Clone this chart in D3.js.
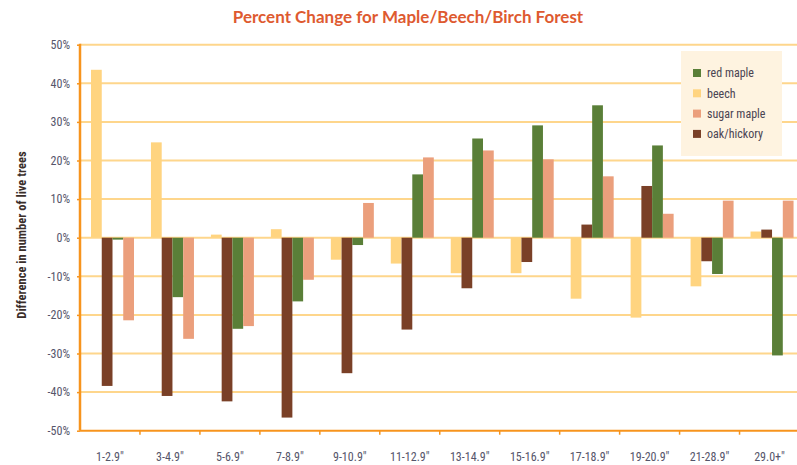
<!DOCTYPE html>
<html>
<head>
<meta charset="utf-8">
<script src="https://cdn.jsdelivr.net/npm/d3@7"></script>
<style>
  body { margin: 0; background: #fff; }
  text { font-family: "Liberation Sans Narrow", "Roboto Condensed", "DejaVu Sans Condensed", "Open Sans", sans-serif; }
</style>
</head>
<body>
<div class="chart"></div>
<script>
var categories = ['1-2.9"', '3-4.9"', '5-6.9"', '7-8.9"', '9-10.9"', '11-12.9"',
                  '13-14.9"', '15-16.9"', '17-18.9"', '19-20.9"', '21-28.9"', '29.0+"'];

// percent change per diameter class
var beech      = [43.5, 24.7, 0.8, 2.2, -5.7, -6.7, -9.2, -9.2, -15.8, -20.7, -12.6, 1.6];
var oakHickory = [-38.4, -41.0, -42.4, -46.6, -35.1, -23.8, -13.1, -6.3, 3.4, 13.4, -6.1, 2.1];
var redMaple   = [-0.5, -15.4, -23.6, -16.5, -1.9, 16.4, 25.7, 29.1, 34.3, 23.9, -9.4, -30.5];
var sugarMaple = [-21.4, -26.2, -22.9, -10.9, 9.0, 20.8, 22.6, 20.3, 15.9, 6.2, 9.6, 9.6];

var yTicks = [-50, -40, -30, -20, -10, 0, 10, 20, 30, 40, 50];

var series = [
  {key: 'beech', name: 'beech', values: beech, color: '#ffd480'},
  {key: 'oak', name: 'oak/hickory', values: oakHickory, color: '#7a4027'},
  {key: 'red', name: 'red maple', values: redMaple, color: '#5a7f38'},
  {key: 'sugar', name: 'sugar maple', values: sugarMaple, color: '#eb9f7c'}
];
var legendOrder = ['red', 'beech', 'sugar', 'oak'];

var chartOptions = {
  width: 797,
  height: 465,
  left: 80,
  right: 799.5,
  top: 44.7,
  bottom: 430.7
}

var svg = d3.select('.chart').append('svg')
            .attr('width', chartOptions.width)
            .attr('height', chartOptions.height);

var x0 = d3.scaleBand()
           .domain(categories)
           .range([chartOptions.left, chartOptions.right]);

var x1 = d3.scaleBand()
           .domain(series.map(function(s){ return s.key; }))
           .range([11, 54]);

var y = d3.scaleLinear()
          .domain([-50, 50])
          .range([chartOptions.bottom, chartOptions.top]);

// title
svg.append('text')
   .attr('x', 408)
   .attr('y', 23)
   .attr('text-anchor', 'middle')
   .attr('fill', '#de5a30')
   .attr('font-size', 17)
   .attr('font-weight', 'bold')
   .style('font-family', 'Lato, "Open Sans", sans-serif')
   .text('Percent Change for Maple/Beech/Birch Forest');

// gridlines
svg.append('g')
   .selectAll('line')
   .data(yTicks.filter(function(t){ return t > -50; }))
   .enter()
   .append('line')
     .attr('x1', chartOptions.left)
     .attr('x2', chartOptions.width)
     .attr('y1', function(t){ return y(t); })
     .attr('y2', function(t){ return y(t); })
     .attr('stroke', '#fed68c')
     .attr('stroke-width', 2);

// bars
var groups = svg.append('g')
                .selectAll('g')
                .data(series)
                .enter()
                .append('g')
                  .attr('fill', function(s){ return s.color; });

groups.selectAll('rect')
      .data(function(s){
        return s.values.map(function(v, i){ return {key: s.key, cat: categories[i], value: v}; });
      })
      .enter()
      .append('rect')
        .attr('x', function(d){ return x0(d.cat) + x1(d.key); })
        .attr('width', x1.bandwidth())
        .attr('y', function(d){ return y(Math.max(0, d.value)); })
        .attr('height', function(d){ return Math.abs(y(d.value) - y(0)); });

// y axis
var yAxis = d3.axisLeft(y)
              .tickValues(yTicks)
              .tickSize(3)
              .tickPadding(7)
              .tickFormat(function(t){ return t + '%'; });

var yAxisG = svg.append('g')
                .attr('transform', 'translate(' + chartOptions.left + ',0)')
                .call(yAxis);

// x axis at the bottom, ticks on group boundaries
var xAxis = d3.axisBottom(x0)
              .tickSize(0)
              .tickPadding(22);

var xAxisG = svg.append('g')
                .attr('transform', 'translate(0,' + chartOptions.bottom + ')')
                .call(xAxis);

xAxisG.selectAll('.boundary')
      .data(categories.slice(1))
      .enter()
      .append('line')
        .attr('class', 'boundary')
        .attr('x1', function(c){ return x0(c); })
        .attr('x2', function(c){ return x0(c); })
        .attr('y1', 0)
        .attr('y2', 4)
        .attr('stroke', '#f7941d')
        .attr('stroke-width', 1.5);

[yAxisG, xAxisG].forEach(function(g){
  g.select('.domain').remove();
  g.selectAll('.tick line').attr('stroke', '#f7941d').attr('stroke-width', 1.5);
  g.selectAll('.tick text')
   .attr('fill', '#55556a')
   .attr('font-size', 12)
   .style('font-family', '"Liberation Sans Narrow", "Roboto Condensed", "Open Sans", sans-serif');
});

svg.append('line')
   .attr('x1', chartOptions.left)
   .attr('x2', chartOptions.left)
   .attr('y1', chartOptions.top - 1)
   .attr('y2', chartOptions.bottom)
   .attr('stroke', '#f7941d')
   .attr('stroke-width', 2.5);

svg.append('line')
   .attr('x1', chartOptions.left)
   .attr('x2', chartOptions.width)
   .attr('y1', chartOptions.bottom)
   .attr('y2', chartOptions.bottom)
   .attr('stroke', '#f7941d')
   .attr('stroke-width', 2);

// y axis title
svg.append('text')
   .attr('transform', 'translate(26,235) rotate(-90)')
   .attr('text-anchor', 'middle')
   .attr('fill', '#3a2e2a')
   .attr('font-size', 12.5)
   .attr('font-weight', 'bold')
   .text('Difference in number of live trees');

// legend
var legend = svg.append('g')
                .attr('transform', 'translate(681,51)');

legend.append('rect')
      .attr('width', 101)
      .attr('height', 105)
      .attr('fill', '#fef3e0');

var legendItems = legend.selectAll('.item')
                        .data(legendOrder.map(function(k){
                          return series.find(function(s){ return s.key === k; });
                        }))
                        .enter()
                        .append('g')
                          .attr('class', 'item')
                          .attr('transform', function(s, i){ return 'translate(12,' + (22 + i * 20.3) + ')'; });

legendItems.append('rect')
           .attr('x', 0)
           .attr('y', -4)
           .attr('width', 8)
           .attr('height', 8)
           .attr('fill', function(s){ return s.color; });

legendItems.append('text')
           .attr('x', 14)
           .attr('dy', '0.35em')
           .attr('fill', '#4a4452')
           .attr('font-size', 12)
           .text(function(s){ return s.name; });
</script>
</body>
</html>
